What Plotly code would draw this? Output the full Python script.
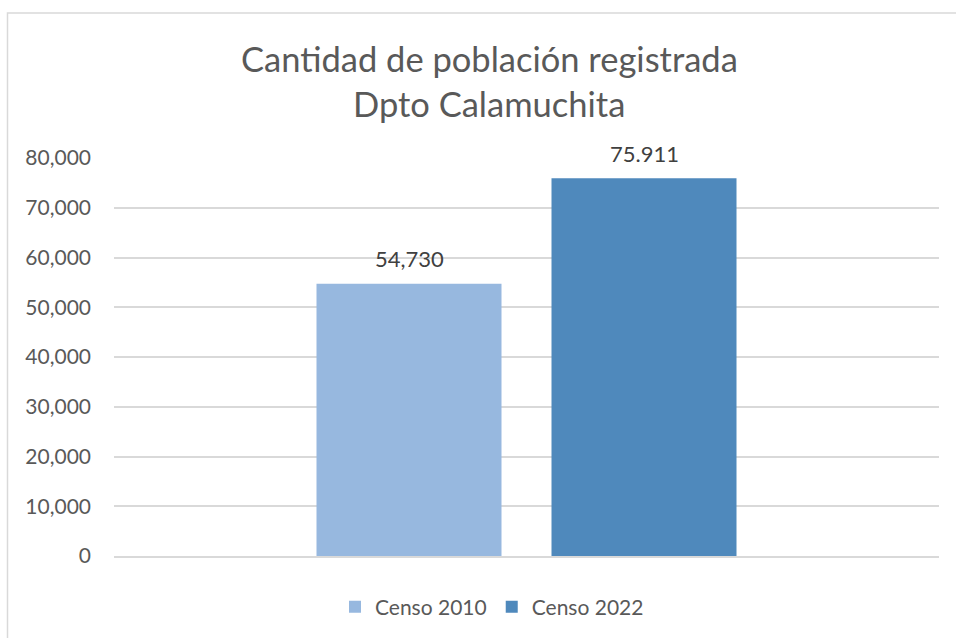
import plotly.graph_objects as go

# Data
category = ["Dpto Calamuchita"]
series_names = ["Censo 2010", "Censo 2022"]
values_2010 = [54730]
values_2022 = [75911]
data_labels = ["54,730", "75.911"]
y_ticks = [0, 10000, 20000, 30000, 40000, 50000, 60000, 70000, 80000]
title_lines = ["Cantidad de población registrada", "Dpto Calamuchita"]

colors = ["#97B8DF", "#4F89BC"]
FONT = "Lato"
TEXT_GREY = "#595959"

fig = go.Figure()
for name, vals, col in zip(series_names, [values_2010, values_2022], colors):
    fig.add_trace(go.Bar(x=category, y=vals, name=name, marker=dict(color=col, line=dict(width=0)),
                         hoverinfo="skip"))

# data labels above bars
shifts = [-117.5, 117.5]
for vals, lab, xs in zip([values_2010, values_2022], data_labels, shifts):
    fig.add_annotation(x=category[0], y=vals[0], text=lab, showarrow=False,
                       xshift=xs, yshift=25, yanchor="middle",
                       font=dict(family=FONT, size=22, color="#404040"))

# title lines
fig.add_annotation(xref="paper", yref="paper", x=(489 - 114) / 825, y=(556 - 58) / 398,
                   text=title_lines[0], showarrow=False, xanchor="center", yanchor="middle",
                   font=dict(family=FONT, size=34.5, color=TEXT_GREY))
fig.add_annotation(xref="paper", yref="paper", x=(489 - 114) / 825, y=(556 - 103) / 398,
                   text=title_lines[1], showarrow=False, xanchor="center", yanchor="middle",
                   font=dict(family=FONT, size=34.5, color=TEXT_GREY))

# chart border (left/top visible)
fig.add_shape(type="rect", xref="paper", yref="paper",
              x0=(7.5 - 114) / 825, x1=1.2, y0=-0.5, y1=(556 - 13) / 398,
              line=dict(color="#D9D9D9", width=1.5), fillcolor="rgba(0,0,0,0)", layer="below")

fig.update_layout(
    width=956, height=638,
    margin=dict(l=114, r=17, t=158, b=82),
    paper_bgcolor="white", plot_bgcolor="white",
    barmode="group", bargap=0.4303, bargroupgap=0.2128,
    showlegend=True,
    legend=dict(orientation="h", xref="container", yref="container",
                x=492 / 956, xanchor="center", y=1 - 607 / 638, yanchor="middle",
                font=dict(family=FONT, size=21, color=TEXT_GREY),
                itemsizing="constant", traceorder="normal", itemwidth=30),
    font=dict(family=FONT, color=TEXT_GREY),
)
fig.update_xaxes(showticklabels=False, showgrid=False, zeroline=False, showline=True,
                 linecolor="#D9D9D9", linewidth=1.5, ticks="", fixedrange=True)
fig.update_yaxes(range=[0, 80000], tickvals=y_ticks, tickformat=",d",
                 showgrid=True, gridcolor="#D9D9D9", gridwidth=1.5, zeroline=False,
                 showline=False, ticks="", ticklabelstandoff=22,
                 tickfont=dict(family=FONT, size=21, color=TEXT_GREY), fixedrange=True)

fig.write_html("out.html")
